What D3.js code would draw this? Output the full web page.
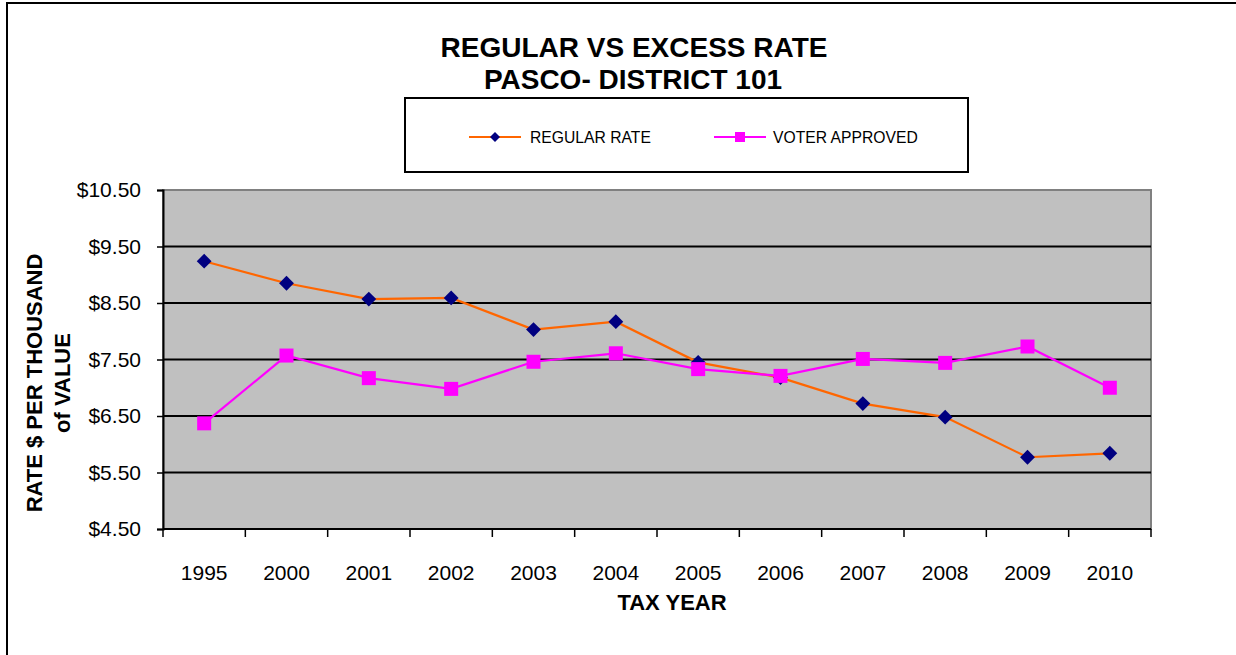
<!DOCTYPE html>
<html><head><meta charset="utf-8">
<script src="https://cdn.jsdelivr.net/npm/d3@7"></script>
<style>body{margin:0;background:#fff;}svg{display:block;font-family:"Liberation Sans",Arial,sans-serif;}</style>
</head><body>
<svg id="c" width="1236" height="655"></svg>
<script>
const years = ["1995","2000","2001","2002","2003","2004","2005","2006","2007","2008","2009","2010"];
const regularRate = [9.24,8.85,8.57,8.59,8.03,8.17,7.45,7.18,6.72,6.48,5.77,5.84];
const voterApproved = [6.37,7.57,7.17,6.98,7.46,7.61,7.33,7.21,7.51,7.44,7.73,7.00];
const yTicks = [4.5,5.5,6.5,7.5,8.5,9.5,10.5];
const seriesNames = ["REGULAR RATE","VOTER APPROVED"];

const svg = d3.select("#c");
// outer border
svg.append("rect").attr("x",7).attr("y",3).attr("width",1240).attr("height",670)
  .attr("fill","#fff").attr("stroke","#000").attr("stroke-width",2);

const L=163,R=1151,T=190,B=529;
const x = d3.scaleBand().domain(years).range([L,R]);
const y = d3.scaleLinear().domain([4.5,10.5]).range([B,T]);

// plot area
svg.append("rect").attr("x",L).attr("y",T).attr("width",R-L).attr("height",B-T)
  .attr("fill","#C0C0C0").attr("stroke","#808080").attr("stroke-width",2);

// gridlines
svg.append("g").selectAll("line").data(yTicks.filter(d=>d>4.5&&d<10.5)).join("line")
  .attr("x1",L).attr("x2",R).attr("y1",d=>y(d)).attr("y2",d=>y(d))
  .attr("stroke","#000").attr("stroke-width",2);

// y axis
const yAxis = d3.axisLeft(y).tickValues(yTicks).tickFormat(d=>"$"+d3.format(".2f")(d)).tickSize(6).tickPadding(16);
const gy = svg.append("g").attr("transform",`translate(${L},0)`).call(yAxis);
gy.select(".domain").attr("stroke","#000").attr("stroke-width",2);
gy.selectAll(".tick line").attr("stroke","#000").attr("stroke-width",1.5);
gy.selectAll("text").attr("font-size",21).attr("fill","#000").attr("font-family","Liberation Sans, Arial, sans-serif");

// x axis
const gx = svg.append("g").attr("transform",`translate(0,${B})`);
gx.append("line").attr("x1",L).attr("x2",R).attr("stroke","#000").attr("stroke-width",2);
const bounds = years.map(d=>x(d)).concat([R]);
gx.selectAll("line.tk").data(bounds).join("line").attr("class","tk")
  .attr("x1",d=>d).attr("x2",d=>d).attr("y1",0).attr("y2",8).attr("stroke","#000").attr("stroke-width",1.5);
gx.selectAll("text").data(years).join("text")
  .attr("x",d=>x(d)+x.bandwidth()/2).attr("y",51).attr("text-anchor","middle")
  .attr("font-size",21).attr("fill","#000").text(d=>d);

// lines
const line = d3.line().x((d,i)=>x(years[i])+x.bandwidth()/2).y(d=>y(d));
svg.append("path").datum(regularRate).attr("d",line).attr("fill","none").attr("stroke","#FF6600").attr("stroke-width",2.2);
svg.append("path").datum(voterApproved).attr("d",line).attr("fill","none").attr("stroke","#FF00FF").attr("stroke-width",2.2);

const diamond = d3.symbol().type(d3.symbolSquare).size(110);
svg.append("g").selectAll("path").data(regularRate).join("path")
  .attr("d",diamond).attr("fill","#000080")
  .attr("transform",(d,i)=>`translate(${x(years[i])+x.bandwidth()/2},${y(d)}) rotate(45)`);
svg.append("g").selectAll("rect").data(voterApproved).join("rect")
  .attr("x",(d,i)=>x(years[i])+x.bandwidth()/2-7).attr("y",d=>y(d)-7)
  .attr("width",14).attr("height",14).attr("fill","#FF00FF");

// title
const title = svg.append("text").attr("text-anchor","middle").attr("font-weight","bold").attr("font-size",28).attr("fill","#000");
title.append("tspan").attr("x",634).attr("y",57).text("REGULAR VS EXCESS RATE");
title.append("tspan").attr("x",633).attr("y",89).text("PASCO- DISTRICT 101");

// legend
svg.append("rect").attr("x",405).attr("y",98).attr("width",563).attr("height",74).attr("fill","#fff").attr("stroke","#000").attr("stroke-width",2);
const lg = svg.append("g");
lg.append("line").attr("x1",469).attr("x2",521).attr("y1",137).attr("y2",137).attr("stroke","#FF6600").attr("stroke-width",2.2);
lg.append("path").attr("d",d3.symbol().type(d3.symbolSquare).size(50)).attr("fill","#000080").attr("transform","translate(495,137) rotate(45)");
lg.append("text").attr("x",530).attr("y",143).attr("font-size",15.7).text(seriesNames[0]);
lg.append("line").attr("x1",714).attr("x2",766).attr("y1",137).attr("y2",137).attr("stroke","#FF00FF").attr("stroke-width",2.2);
lg.append("rect").attr("x",735).attr("y",132).attr("width",10).attr("height",10).attr("fill","#FF00FF");
lg.append("text").attr("x",773).attr("y",143).attr("font-size",15.7).text(seriesNames[1]);

// axis titles
const yt = svg.append("text").attr("transform","translate(42,383) rotate(-90)").attr("text-anchor","middle").attr("font-weight","bold").attr("font-size",22);
yt.append("tspan").attr("x",0).attr("y",0).text("RATE $ PER THOUSAND");
yt.append("tspan").attr("x",0).attr("y",28).text("of VALUE");
svg.append("text").attr("x",672).attr("y",610).attr("text-anchor","middle").attr("font-weight","bold").attr("font-size",22).text("TAX YEAR");
</script>
</body></html>
